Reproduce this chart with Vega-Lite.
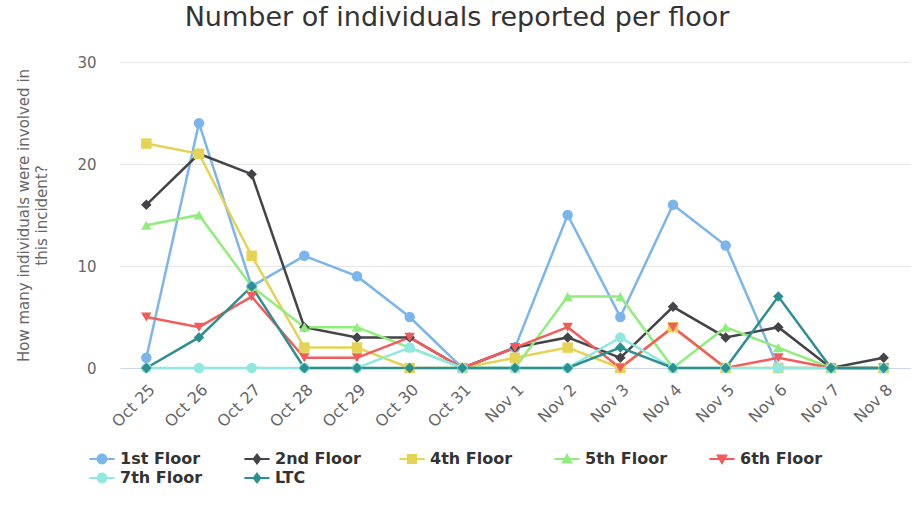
{
  "$schema": "https://vega.github.io/schema/vega-lite/v6.json",
  "autosize": "none",
  "width": 790,
  "height": 306,
  "padding": {"left": 120, "top": 62, "right": 3, "bottom": 144},
  "background": "white",
  "title": {
    "text": "Number of individuals reported per floor",
    "font": "DejaVu Sans",
    "fontSize": 27,
    "fontWeight": "normal",
    "color": "#333333",
    "anchor": "middle",
    "dx": -58,
    "offset": 23
  },
  "config": {
    "view": {"stroke": null},
    "font": "DejaVu Sans"
  },
  "data": {
    "values": [
      {"date": "Oct 25", "1st Floor": 1, "2nd Floor": 16, "4th Floor": 22, "5th Floor": 14, "6th Floor": 5, "7th Floor": 0, "LTC": 0},
      {"date": "Oct 26", "1st Floor": 24, "2nd Floor": 21, "4th Floor": 21, "5th Floor": 15, "6th Floor": 4, "7th Floor": 0, "LTC": 3},
      {"date": "Oct 27", "1st Floor": 8, "2nd Floor": 19, "4th Floor": 11, "5th Floor": 8, "6th Floor": 7, "7th Floor": 0, "LTC": 8},
      {"date": "Oct 28", "1st Floor": 11, "2nd Floor": 4, "4th Floor": 2, "5th Floor": 4, "6th Floor": 1, "7th Floor": 0, "LTC": 0},
      {"date": "Oct 29", "1st Floor": 9, "2nd Floor": 3, "4th Floor": 2, "5th Floor": 4, "6th Floor": 1, "7th Floor": 0, "LTC": 0},
      {"date": "Oct 30", "1st Floor": 5, "2nd Floor": 3, "4th Floor": 0, "5th Floor": 2, "6th Floor": 3, "7th Floor": 2, "LTC": 0},
      {"date": "Oct 31", "1st Floor": 0, "2nd Floor": 0, "4th Floor": 0, "5th Floor": 0, "6th Floor": 0, "7th Floor": 0, "LTC": 0},
      {"date": "Nov 1", "1st Floor": 2, "2nd Floor": 2, "4th Floor": 1, "5th Floor": 0, "6th Floor": 2, "7th Floor": 0, "LTC": 0},
      {"date": "Nov 2", "1st Floor": 15, "2nd Floor": 3, "4th Floor": 2, "5th Floor": 7, "6th Floor": 4, "7th Floor": 0, "LTC": 0},
      {"date": "Nov 3", "1st Floor": 5, "2nd Floor": 1, "4th Floor": 0, "5th Floor": 7, "6th Floor": 0, "7th Floor": 3, "LTC": 2},
      {"date": "Nov 4", "1st Floor": 16, "2nd Floor": 6, "4th Floor": 4, "5th Floor": 0, "6th Floor": 4, "7th Floor": 0, "LTC": 0},
      {"date": "Nov 5", "1st Floor": 12, "2nd Floor": 3, "4th Floor": 0, "5th Floor": 4, "6th Floor": 0, "7th Floor": 0, "LTC": 0},
      {"date": "Nov 6", "1st Floor": 0, "2nd Floor": 4, "4th Floor": 0, "5th Floor": 2, "6th Floor": 1, "7th Floor": 0, "LTC": 7},
      {"date": "Nov 7", "1st Floor": 0, "2nd Floor": 0, "4th Floor": 0, "5th Floor": 0, "6th Floor": 0, "7th Floor": 0, "LTC": 0},
      {"date": "Nov 8", "1st Floor": 0, "2nd Floor": 1, "4th Floor": 0, "5th Floor": 0, "6th Floor": 0, "7th Floor": 0, "LTC": 0}
    ]
  },
  "transform": [
    {"fold": ["1st Floor", "2nd Floor", "4th Floor", "5th Floor", "6th Floor", "7th Floor", "LTC"], "as": ["series", "value"]}
  ],
  "encoding": {
    "x": {
      "field": "date",
      "type": "ordinal",
      "sort": null,
      "scale": {"domain": ["Oct 25","Oct 26","Oct 27","Oct 28","Oct 29","Oct 30","Oct 31","Nov 1","Nov 2","Nov 3","Nov 4","Nov 5","Nov 6","Nov 7","Nov 8"], "padding": 0.5},
      "axis": {
        "title": null,
        "labelAngle": -45,
        "labelFontSize": 16,
        "labelColor": "#666666",
        "labelFont": "DejaVu Sans",
        "ticks": false,
        "domainColor": "#ccd6eb",
        "domainWidth": 1,
        "grid": false,
        "labelPadding": 13
      }
    },
    "y": {
      "field": "value",
      "type": "quantitative",
      "scale": {"domain": [0, 30], "nice": false},
      "axis": {
        "values": [0, 10, 20, 30],
        "title": ["How many individuals were involved in", "this incident?"],
        "titleFont": "DejaVu Sans",
        "titleFontSize": 15,
        "titleFontWeight": "normal",
        "titleColor": "#666666",
        "titleX": -104,
        "titleY": 153,
        "titleBaseline": "top",
        "titleLineHeight": 18,
        "labelFontSize": 15,
        "labelColor": "#666666",
        "labelPadding": 24,
        "ticks": false,
        "domain": false,
        "gridColor": "#e6e6e6"
      }
    },
    "color": {
      "field": "series",
      "type": "nominal",
      "scale": {
        "domain": ["1st Floor", "2nd Floor", "4th Floor", "5th Floor", "6th Floor", "7th Floor", "LTC"],
        "range": ["#7cb5ec", "#434348", "#e4d354", "#90ed7d", "#f45b5b", "#91e8e1", "#2b908f"]
      },
      "legend": {
        "title": null,
        "orient": "none",
        "legendX": -26,
        "legendY": 389,
        "direction": "horizontal",
        "columns": 5,
        "gridAlign": "all",
        "columnPadding": 38,
        "rowPadding": 3,
        "labelFontSize": 16,
        "labelFontWeight": "bold",
        "labelColor": "#333333",
        "labelFont": "DejaVu Sans",
        "symbolSize": 144,
        "symbolStrokeWidth": 0,
        "labelOffset": 10,
        "encode": {
          "symbols": {
            "update": {
              "shape": {"signal": "datum.value === '1st Floor' || datum.value === '7th Floor' ? 'M-2.1,-0.17H2.1V0.17H-2.1Z M-0.9,0A0.9,0.9,0,1,1,0.9,0A0.9,0.9,0,1,1,-0.9,0Z' : datum.value === '2nd Floor' || datum.value === 'LTC' ? 'M-2.1,-0.17H2.1V0.17H-2.1Z M0,-1L0.75,0L0,1L-0.75,0Z' : datum.value === '4th Floor' ? 'M-2.1,-0.17H2.1V0.17H-2.1Z M-0.85,-0.85H0.85V0.85H-0.85Z' : datum.value === '5th Floor' ? 'M-2.1,-0.17H2.1V0.17H-2.1Z M0,-1L1,0.75H-1Z' : 'M-2.1,-0.17H2.1V0.17H-2.1Z M-1,-0.75H1L0,1Z'"},
              "fill": {"scale": "color", "field": "value"},
              "strokeWidth": {"value": 0}
            }
          }
        }
      }
    }
  },
  "layer": [
    {"mark": {"type": "line", "strokeWidth": 2.5}},
    {
      "mark": {"type": "point", "filled": true, "size": 110, "opacity": 1},
      "encoding": {
        "shape": {
          "field": "series",
          "type": "nominal",
          "legend": null,
          "scale": {
            "range": ["circle", "diamond", "square", "triangle-up", "triangle-down", "circle", "diamond"]
          }
        }
      }
    }
  ]
}
